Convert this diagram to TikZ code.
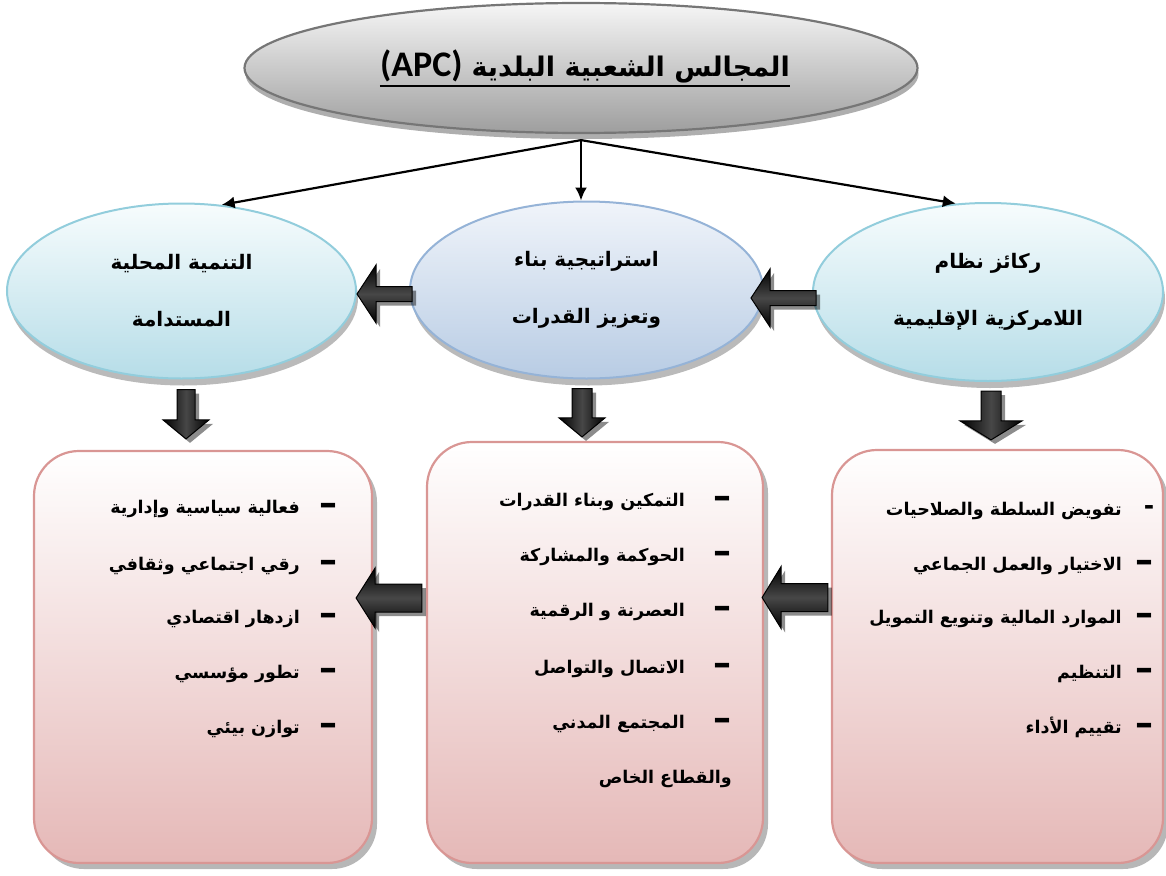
\documentclass[tikz,border=0pt]{standalone}
\usepackage{fontspec}
\usetikzlibrary{shapes.geometric,shadows,calc,arrows.meta}
\TeXXeTstate=1
\newfontfamily\arabicfont[Script=Arabic]{DejaVu Sans}
\newfontfamily\latinbold{Carlito}

\definecolor{titleedge}{HTML}{767676}
\definecolor{titletop}{HTML}{F6F6F6}
\definecolor{titlebot}{HTML}{9E9E9E}
\definecolor{aquaedge}{HTML}{92CDDC}
\definecolor{aquatop}{HTML}{F7FCFD}
\definecolor{aquabot}{HTML}{B6DDE8}
\definecolor{blueedge}{HTML}{95B3D7}
\definecolor{bluetop}{HTML}{F0F4FA}
\definecolor{bluebot}{HTML}{B8CCE4}
\definecolor{pinkedge}{HTML}{D99694}
\definecolor{pinkbot}{HTML}{E5B8B7}

% left-pointing block arrow: tip, tail, half shaft, half head
\newcommand\leftblock[4]{%
  \path[blockarrow,hshade] let \p1=(#1), \p2=(#2) in
    (\x1,\y1) -- (\x1+19pt,\y1+#4) -- (\x1+19pt,\y1+#3) -- (\x2,\y1+#3)
    -- (\x2,\y1-#3) -- (\x1+19pt,\y1-#3) -- (\x1+19pt,\y1-#4) -- cycle;}
% downward block arrow: top, tip, half shaft, half head
\newcommand\downblock[4]{%
  \path[blockarrow,vshade] let \p1=(#1), \p2=(#2) in
    (\x1,\y2) -- (\x1-#4,\y2+19pt) -- (\x1-#3,\y2+19pt) -- (\x1-#3,\y1)
    -- (\x1+#3,\y1) -- (\x1+#3,\y2+19pt) -- (\x1+#4,\y2+19pt) -- cycle;}

\begin{document}
\begin{tikzpicture}[x=1pt,y=-1pt,
  titleell/.style={ellipse,draw=titleedge,line width=2.2pt,top color=titletop,
    bottom color=titlebot,inner sep=0pt,
    drop shadow={shadow xshift=1pt,shadow yshift=-6pt,opacity=0.45,fill=black!70}},
  aquaell/.style={ellipse,draw=aquaedge,line width=2pt,top color=aquatop,
    bottom color=aquabot,inner sep=0pt,align=center,
    font=\arabicfont\bfseries\fontsize{20}{57}\selectfont,
    drop shadow={shadow xshift=2pt,shadow yshift=-7pt,opacity=0.45,fill=black!60}},
  blueell/.style={aquaell,draw=blueedge,top color=bluetop,bottom color=bluebot},
  pinkbox/.style={draw=pinkedge,line width=2.2pt,rounded corners=45pt,
    top color=white,bottom color=pinkbot,inner sep=0pt,
    drop shadow={shadow xshift=5pt,shadow yshift=-6pt,opacity=0.4,fill=black!70}},
  item/.style={anchor=base east,inner sep=0pt,
    font=\arabicfont\bfseries\fontsize{17.5}{20}\selectfont},
  bullet/.style={anchor=center,inner sep=0pt,
    font=\arabicfont\bfseries\fontsize{36}{36}\selectfont},
  shortbullet/.style={bullet,font=\arabicfont\bfseries\fontsize{25}{25}\selectfont},
  thinarrow/.style={line width=2.2pt,-{Latex[length=13pt,width=12pt]}},
  blockarrow/.style={draw=black,line width=1pt,line join=miter,
    drop shadow={shadow xshift=4pt,shadow yshift=-4pt,opacity=0.45,fill=black}},
  hshade/.style={top color=black,bottom color=black,middle color=black!72},
  vshade/.style={left color=black,right color=black,middle color=black!72}]

\useasboundingbox (0,0) rectangle (1166,875);

% top ellipse
\node[titleell,minimum width=673,minimum height=130] (title) at (581,68) {};
\node[anchor=base,inner sep=0pt,font=\bfseries] (ttext) at (585,77)
  {{\latinbold\fontsize{36}{40}\selectfont (APC)}\hspace{9pt}{\arabicfont\fontsize{27}{32}\selectfont\beginR المجالس الشعبية البلدية\endR}};
\draw[line width=2.4pt] ([yshift=-9pt]ttext.base west) -- ([yshift=-9pt]ttext.base east);

% second row
\node[aquaell,minimum width=349,minimum height=175] (lell) at (181.5,291)
  {\beginR التنمية المحلية\endR\\\beginR المستدامة\endR};
\node[blueell,minimum width=353,minimum height=177] (mell) at (586.5,290)
  {\beginR استراتيجية بناء\endR\\\beginR وتعزيز القدرات\endR};
\node[aquaell,minimum width=350,minimum height=178] (rell) at (988,292)
  {\beginR ركائز نظام\endR\\\beginR اللامركزية الإقليمية\endR};

% links from the top ellipse
\coordinate (apex) at ($(title.south)+(0,6)$);
\draw[thinarrow] (apex) -- (lell.65);
\draw[thinarrow] (apex) -- (apex |- mell.north);
\draw[thinarrow] (apex) -- (rell.110);

% bottom boxes
\node[pinkbox,minimum width=338,minimum height=412] (lbox) at (203,657) {};
\node[pinkbox,minimum width=336,minimum height=421] (mbox) at (595,652.5) {};
\node[pinkbox,minimum width=331,minimum height=413] (rbox) at (997.5,656.5) {};

% block arrows between the ellipses
\coordinate (e1tip) at ($(lell.east)+(0,3)$);
\coordinate (e1tail) at ($(mell.west)+(3,0)$);
\leftblock{e1tip}{e1tail}{7.5pt}{29pt}
\coordinate (e2tip) at ($(mell.east)+(-13,8)$);
\coordinate (e2tail) at ($(rell.west)+(4,0)$);
\leftblock{e2tip}{e2tail}{7.5pt}{29pt}

% block arrows between the boxes
\coordinate (b1tip) at ($(lbox.east)+(-17,-59)$);
\coordinate (b1tail) at ($(mbox.west)+(-4,0)$);
\leftblock{b1tip}{b1tail}{14pt}{30pt}
\coordinate (b2tip) at ($(mbox.east)+(-2,-55)$);
\coordinate (b2tail) at ($(rbox.west)+(-3,0)$);
\leftblock{b2tip}{b2tail}{14pt}{31pt}

% block arrows from the ellipses down to the boxes
\coordinate (d1top) at ($(lell.south)+(4.5,10)$);
\coordinate (d1tip) at ($(lbox.north)+(0,-11)$);
\downblock{d1top}{d1tip}{9pt}{23pt}
\coordinate (d2top) at ($(mell.south)+(-4.5,9)$);
\coordinate (d2tip) at ($(mbox.north)+(0,-4)$);
\downblock{d2top}{d2tip}{10pt}{23pt}
\coordinate (d3top) at ($(rell.south)+(3,9)$);
\coordinate (d3tip) at ($(rbox.north)+(0,-9)$);
\downblock{d3top}{d3tip}{10pt}{31pt}

% left box list
\node[bullet] (lb1) at (328,509) {–};
\node[bullet] (lb2) at (328,566) {–};
\node[bullet] (lb3) at (328,619) {–};
\node[bullet] (lb4) at (328,674) {–};
\node[bullet] (lb5) at (328,729) {–};
\node[item] (lt1) at (300,513) {\beginR فعالية سياسية وإدارية\endR};
\node[item] (lt2) at (300,570) {\beginR رقي اجتماعي وثقافي\endR};
\node[item] (lt3) at (300,623) {\beginR ازدهار اقتصادي\endR};
\node[item] (lt4) at (300,678) {\beginR تطور مؤسسي\endR};
\node[item] (lt5) at (300,733) {\beginR توازن بيئي\endR};

% middle box list
\node[bullet] (mb1) at (722,502) {–};
\node[bullet] (mb2) at (722,557) {–};
\node[bullet] (mb3) at (722,612) {–};
\node[bullet] (mb4) at (722,669) {–};
\node[bullet] (mb5) at (722,724) {–};
\node[item] (mt1) at (685,506) {\beginR التمكين وبناء القدرات\endR};
\node[item] (mt2) at (685,561) {\beginR الحوكمة والمشاركة\endR};
\node[item] (mt3) at (685,616) {\beginR العصرنة و الرقمية\endR};
\node[item] (mt4) at (685,673) {\beginR الاتصال والتواصل\endR};
\node[item] (mt5) at (685,728) {\beginR المجتمع المدني\endR};
\node[item] (mt6) at (732,783) {\beginR والقطاع الخاص\endR};

% right box list
\node[shortbullet] (rb1) at (1149,510) {-};
\node[bullet] (rb2) at (1144,566) {–};
\node[bullet] (rb3) at (1144,619) {–};
\node[bullet] (rb4) at (1144,674) {–};
\node[bullet] (rb5) at (1144,729) {–};
\node[item] (rt1) at (1122,515) {\beginR تفويض السلطة والصلاحيات\endR};
\node[item] (rt2) at (1122,570) {\beginR الاختيار والعمل الجماعي\endR};
\node[item] (rt3) at (1122,623) {\beginR الموارد المالية وتنويع التمويل\endR};
\node[item] (rt4) at (1122,678) {\beginR التنظيم\endR};
\node[item] (rt5) at (1122,733) {\beginR تقييم الأداء\endR};
\end{tikzpicture}
\end{document}
